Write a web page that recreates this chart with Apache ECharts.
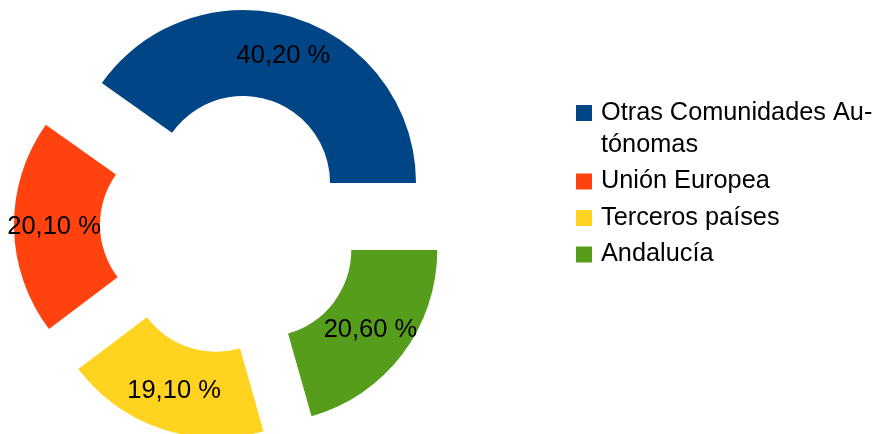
<!DOCTYPE html>
<html>
<head>
<meta charset="utf-8">
<script src="https://cdn.jsdelivr.net/npm/echarts@6/dist/echarts.min.js"></script>
<style>
    html, body { margin: 0; padding: 0; background: #fff; }
    #chart { width: 880px; height: 434px; }
</style>
</head>
<body>
<div id="chart"></div>
<script>
    // origen de los datos (porcentajes)
    var names = ['Otras Comunidades Autónomas', 'Unión Europea', 'Terceros países', 'Andalucía'];
    var values = [40.2, 20.1, 19.1, 20.6];
    var colors = ['#004586', '#ff420e', '#ffd320', '#579d1c'];

    var pieData = [];
    names.forEach(function (n, i) {
        pieData.push({ name: n, value: values[i], selected: true, itemStyle: { color: colors[i] } });
    });

    var myChart = echarts.init(document.getElementById('chart'), null, { renderer: 'canvas' });

    var options = {
        animation: false,
        legend: {
            orient: 'vertical',
            left: 576,
            top: 65,
            padding: 0,
            itemGap: 4.5,
            itemWidth: 16,
            itemHeight: 16,
            icon: 'rect',
            selectedMode: false,
            data: names,
            formatter: function (name) {
                if (name === 'Otras Comunidades Autónomas') {
                    return '\nOtras Comunidades Au-\ntónomas';
                }
                return name;
            },
            textStyle: {
                fontFamily: 'Liberation Sans',
                fontSize: 25.3,
                lineHeight: 32,
                color: '#000',
                padding: [0, 0, 0, 4]
            }
        },
        series: [
            {
                type: 'pie',
                center: [230, 224],
                radius: [87, 173],
                startAngle: 0,
                clockwise: false,
                selectedMode: 'multiple',
                selectedOffset: 43,
                avoidLabelOverlap: false,
                emphasis: { disabled: true },
                label: {
                    show: true,
                    position: 'inside',
                    fontFamily: 'Liberation Sans',
                    fontSize: 25.5,
                    color: '#000',
                    padding: [7, 0, 0, 0],
                    formatter: function (p) {
                        return p.value.toFixed(2).replace('.', ',') + ' %';
                    }
                },
                labelLine: { show: false },
                data: pieData
            }
        ]
    };

    myChart.setOption(options);
</script>
</body>
</html>
